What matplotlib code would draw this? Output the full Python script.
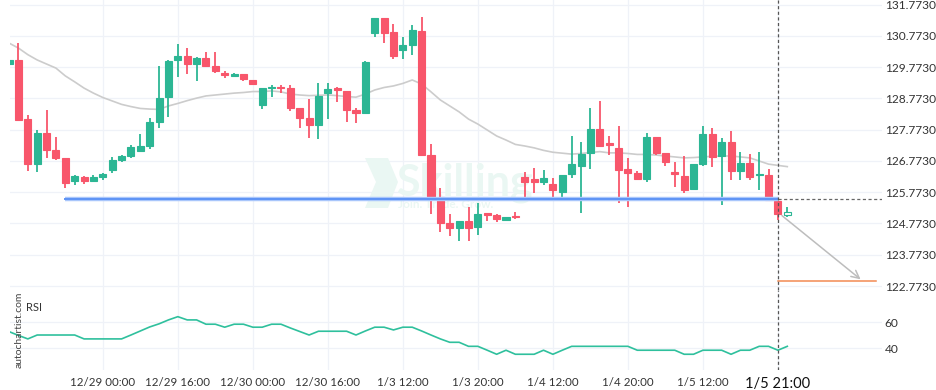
import numpy as np
import matplotlib.pyplot as plt
from matplotlib.patches import Polygon

# --- данные свечей (2-часовые) ---
opens = [129.87, 130.00, 128.11, 126.67, 127.66, 127.12, 126.87, 126.14, 126.26, 126.14,
         126.26, 126.49, 126.81, 126.94, 127.10, 127.26, 128.03, 128.82, 129.99, 130.14,
         129.88, 130.06, 129.81, 129.59, 129.50, 129.56, 129.36, 128.57, 129.10, 129.14,
         129.11, 128.46, 128.15, 127.92, 128.93, 129.10, 129.01, 128.41, 128.30, 130.87,
         131.34, 130.89, 130.33, 130.49, 130.93, 126.96, 125.63, 124.79, 124.64, 124.86,
         124.66, 125.10, 125.04, 124.89, 125.02, 126.26, 126.20, 126.10, 126.04, 125.79,
         126.35, 126.62, 127.03, 127.79, 127.34, 127.19, 126.52, 126.38, 126.20, 127.54,
         127.03, 126.42, 126.29, 125.87, 126.67, 127.64, 126.93, 127.38, 126.46, 126.72,
         126.32, 126.32, 125.50, 125.05]
highs = [130.00, 130.53, 128.23, 127.76, 128.40, 127.53, 126.87, 126.33, 126.30, 126.31,
         126.38, 126.89, 126.95, 127.28, 127.62, 128.14, 129.81, 130.00, 130.51, 130.37,
         130.09, 130.25, 130.25, 129.66, 129.58, 129.56, 129.36, 129.09, 129.20, 129.20,
         129.20, 128.46, 128.74, 129.25, 129.25, 129.15, 129.01, 128.45, 129.97, 131.34,
         131.34, 131.14, 130.73, 131.11, 131.36, 127.30, 125.90, 125.07, 124.86, 125.31,
         125.43, 125.12, 125.06, 124.98, 125.13, 126.42, 126.55, 126.48, 126.22, 126.32,
         127.57, 127.38, 128.45, 128.69, 127.57, 127.89, 126.86, 126.46, 127.67, 127.54,
         127.03, 126.75, 126.92, 126.67, 127.90, 127.82, 127.50, 127.74, 127.07, 127.00,
         127.05, 126.50, 125.50, 125.31]
lows = [129.87, 128.05, 126.46, 126.43, 126.86, 126.80, 125.90, 126.00, 126.05, 126.11,
        126.17, 126.40, 126.73, 126.88, 127.07, 127.15, 127.83, 128.19, 129.47, 129.55,
        129.34, 129.77, 129.57, 129.41, 129.45, 129.32, 129.22, 128.44, 128.81, 128.95,
        128.37, 127.81, 127.50, 127.46, 128.10, 128.65, 128.03, 128.00, 128.27, 130.72,
        130.53, 130.04, 130.02, 130.15, 126.93, 125.07, 124.49, 124.36, 124.22, 124.22,
        124.41, 124.85, 124.83, 124.84, 124.91, 125.53, 125.74, 126.00, 125.55, 125.60,
        126.22, 125.10, 126.53, 127.26, 126.96, 125.42, 125.29, 126.15, 126.10, 126.97,
        126.62, 125.94, 125.74, 125.87, 126.61, 126.59, 125.36, 126.17, 126.15, 126.17,
        125.83, 125.50, 124.88, 124.99]
closes = [130.00, 128.08, 126.67, 127.66, 127.13, 126.87, 126.07, 126.29, 126.14, 126.26,
          126.35, 126.80, 126.93, 127.22, 127.25, 128.02, 128.78, 129.98, 130.14, 129.88,
          130.06, 129.82, 129.66, 129.53, 129.56, 129.39, 129.24, 129.09, 129.14, 129.11,
          128.47, 128.15, 127.93, 128.85, 129.07, 129.05, 128.40, 128.31, 129.94, 131.34,
          130.87, 130.14, 130.48, 130.96, 126.96, 125.63, 124.80, 124.64, 124.86, 124.64,
          125.07, 125.05, 124.92, 124.98, 124.99, 126.11, 126.10, 126.23, 125.85, 126.32,
          126.67, 126.99, 127.79, 127.26, 127.29, 126.49, 126.40, 126.20, 127.54, 127.03,
          126.75, 126.37, 125.85, 126.67, 127.64, 126.90, 127.38, 126.45, 126.72, 126.26,
          126.34, 125.52, 125.08, 125.14]

# скользящая средняя (серая линия)
ma = [130.54, 130.38, 130.17, 130.00, 129.87, 129.74, 129.49, 129.30, 129.10, 128.94,
      128.80, 128.69, 128.58, 128.51, 128.45, 128.43, 128.42, 128.53, 128.61, 128.70,
      128.78, 128.85, 128.88, 128.91, 128.94, 128.96, 128.99, 128.99, 129.01, 128.98,
      128.91, 128.88, 128.86, 128.87, 128.88, 128.86, 128.83, 128.81, 128.91, 129.04,
      129.12, 129.17, 129.25, 129.36, 129.23, 128.98, 128.72, 128.53, 128.34, 128.11,
      127.95, 127.76, 127.57, 127.44, 127.30, 127.25, 127.19, 127.11, 127.05, 127.02,
      126.99, 127.01, 127.04, 127.07, 127.03, 127.03, 127.01, 126.98, 126.98, 126.96,
      126.93, 126.90, 126.87, 126.88, 126.90, 126.92, 126.93, 126.93, 126.90, 126.87,
      126.77, 126.67, 126.63, 126.59]

rsi = [52.8, 49.9, 47.2, 50.2, 50.2, 50.2, 50.2, 50.2, 47.2, 47.2,
       47.2, 47.2, 47.2, 50.2, 53.3, 56.4, 58.8, 61.8, 64.3, 61.8,
       61.8, 58.5, 58.5, 56.2, 58.5, 58.5, 56.2, 56.2, 58.5, 58.5,
       55.6, 52.9, 50.2, 53.1, 53.1, 53.1, 53.1, 50.2, 53.3, 56.2,
       56.2, 54.1, 56.2, 56.2, 53.3, 50.2, 47.2, 44.6, 44.6, 41.5,
       41.5, 38.5, 35.4, 38.5, 35.4, 35.4, 35.4, 38.5, 35.4, 38.5,
       41.5, 41.5, 41.5, 41.5, 41.5, 41.5, 41.5, 38.5, 38.5, 38.5,
       38.5, 38.5, 35.4, 35.4, 38.5, 38.5, 38.5, 35.4, 38.5, 38.5,
       41.5, 41.5, 38.5, 41.5]

tick_idx = [10, 18, 26, 34, 42, 50, 58, 66, 74, 82]
tick_labels = ['12/29 00:00', '12/29 16:00', '12/30 00:00', '12/30 16:00', '1/3 12:00',
               '1/3 20:00', '1/4 12:00', '1/4 20:00', '1/5 12:00', '1/5 21:00']
price_ticks = [122.773 + k for k in range(10)]
rsi_ticks = [40, 60]

support_level = 125.555
support_start, signal_idx = 6, 82
forecast_start = (82.2, 125.08)
forecast_end = (91.05, 122.93)
target_price = 122.93

GREEN = '#2cb694'
RED = '#f8566b'
GRID = '#eff2f8'
TXT = '#333333'
WM = '#eaf7f3'

plt.rcParams['font.family'] = ['Lato', 'DejaVu Sans']

fig = plt.figure(figsize=(9.36, 3.9), dpi=100)
L, R = 10 / 936, 882 / 936
ax = fig.add_axes([L, 100 / 390, R - L, 290 / 390])
ax2 = fig.add_axes([L, 20 / 390, R - L, 80 / 390], sharex=ax)

x = np.arange(len(opens))
o, h, l, c = map(np.array, (opens, highs, lows, closes))
up = c >= o
cols = np.where(up, GREEN, RED)

for a in (ax, ax2):
    for s in a.spines.values():
        s.set_visible(False)
    a.grid(True, color=GRID, lw=0.9)
    a.set_axisbelow(True)
    a.yaxis.tick_right()
    a.tick_params(length=0, labelsize=8.6, colors=TXT, pad=2)

# водяной знак (под свечами)
ax.add_patch(Polygon([(365 / 936, 1 - 158 / 390), (388 / 936, 1 - 158 / 390),
                      (398 / 936, 1 - 182 / 390), (388 / 936, 1 - 208 / 390),
                      (365 / 936, 1 - 208 / 390), (376 / 936, 1 - 182 / 390)],
                     closed=True, transform=fig.transFigure, facecolor=WM,
                     edgecolor='none', zorder=1))
ax.text(396 / 936, 1 - 183 / 390, 'Skilling', fontsize=31, fontweight='bold',
        color=WM, va='center', ha='left', zorder=1, transform=fig.transFigure)
ax.text(398 / 936, 1 - 205 / 390, 'Join. Trade. Grow.', fontsize=8.5, fontweight='bold',
        color=WM, va='center', ha='left', zorder=1, transform=fig.transFigure)

# свечи
ax.vlines(x, l, h, color=cols, lw=1.3, zorder=3)
body_lo = np.minimum(o, c)
body_h = np.maximum(np.abs(c - o), 0.035)
fc = list(cols)
fc[-1] = 'white'  # текущая незакрытая свеча
ax.bar(x, body_h, bottom=body_lo, width=0.75, color=fc, edgecolor=cols, lw=0.8, zorder=4)

ax.plot(x, ma, color='#cccccc', lw=1.2, zorder=2)

# уровень поддержки
ax.plot([support_start, signal_idx], [support_level] * 2, color='#a9c6fb', lw=3.2, zorder=5,
        solid_capstyle='butt')
ax.plot([support_start, signal_idx], [support_level] * 2, color='#5d93f5', lw=1.4, zorder=5)
ax.plot([signal_idx, 94], [support_level] * 2, color='#666666', lw=0.9, ls=(0, (2.5, 2)), zorder=5)

# прогноз
ax.annotate('', xy=forecast_end, xytext=forecast_start,
            arrowprops=dict(arrowstyle='->', color='#bdbdbd', lw=1.1, mutation_scale=14), zorder=5)
ax.plot([signal_idx, 92.5], [target_price] * 2, color='#f28a52', lw=1.1, zorder=5)

for a in (ax, ax2):
    a.axvline(signal_idx, color='#555555', lw=0.9, ls=(0, (2.5, 2)), zorder=6)

ax.set_xlim(0.1, 93.1)
ax.set_ylim(122.646, 131.917)
ax.set_yticks(price_ticks)
ax.set_yticklabels([f'{v:.4f}' for v in price_ticks])
ax.tick_params(axis='x', labelbottom=False)

# RSI
ax2.plot(x, rsi, color='#2fc09d', lw=1.2)
ax2.set_ylim(23.3, 84.8)
ax2.set_yticks(rsi_ticks)
ax2.set_xticks(tick_idx)
ax2.set_xticklabels(tick_labels)
ax2.tick_params(axis='x', labelsize=8.3, pad=5)
last = ax2.get_xticklabels()[-1]
last.set_fontsize(10.5)
last.set_color('#111111')
ax2.text(0.018, 0.78, 'RSI', transform=ax2.transAxes, fontsize=8, color=TXT, va='center')
fig.text(19 / 936, 1 - 330 / 390, 'autochartist.com', rotation=90, fontsize=7.5,
         color='#444444', ha='center', va='center')

fig.savefig('out.png', dpi=100)
